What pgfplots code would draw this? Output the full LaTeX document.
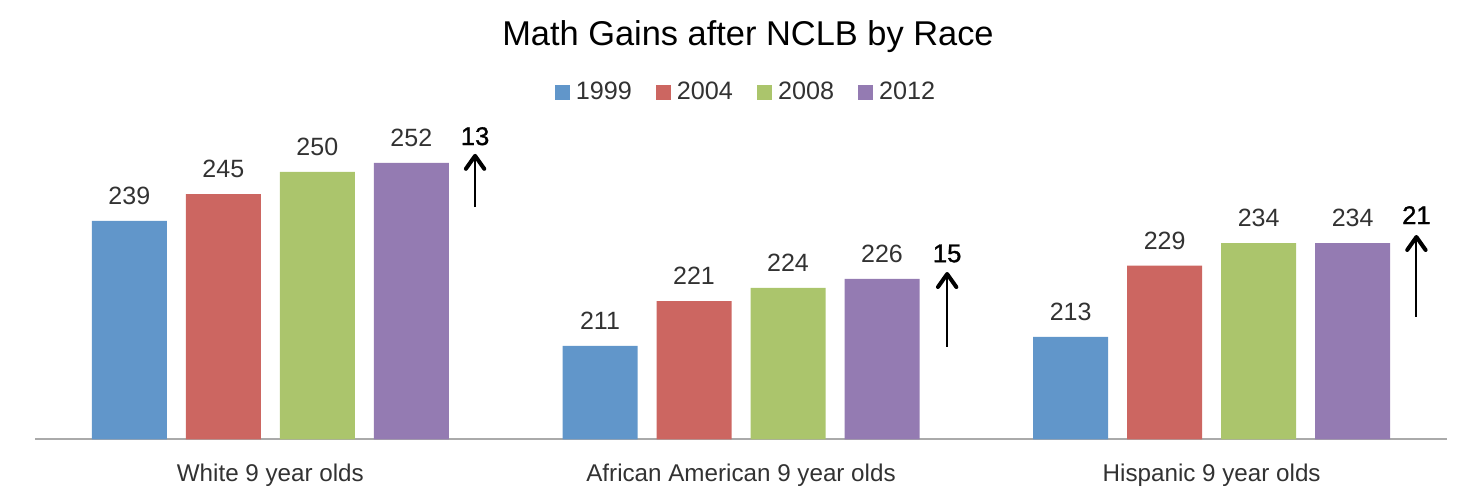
\documentclass[border=0pt]{standalone}
\usepackage{pgfplots}
\pgfplotsset{compat=1.18}
\usepackage{fontspec}
\setmainfont{Liberation Sans}
\newfontfamily\gainfont[BoldFont={Liberation Sans}, BoldFeatures={FakeBold=1.2}]{Liberation Sans}

\definecolor{c1999}{RGB}{97,150,202}
\definecolor{c2004}{RGB}{204,102,97}
\definecolor{c2008}{RGB}{171,197,108}
\definecolor{c2012}{RGB}{148,123,178}
\definecolor{axisgray}{RGB}{170,170,170}
\definecolor{labelgray}{RGB}{50,50,50}

% gain arrow: thin shaft from (#1,#2) up to (#1,#3), bold chevron head
\newcommand{\gainarrow}[3]{%
  \draw[line width=1pt] (axis cs:#1,#2) -- (axis cs:#1,#3);
  \draw[line width=2pt, line cap=round, line join=round]
    ([shift={(-4.6pt,-6.5pt)}]axis cs:#1,#3) -- (axis cs:#1,#3) -- ([shift={(4.6pt,-6.5pt)}]axis cs:#1,#3);
}

\begin{document}
\begin{tikzpicture}
\begin{axis}[
    scale only axis,
    width=706pt, height=156.1pt,
    xmin=-0.5, xmax=2.5,
    ymin=190, ymax=260,
    ybar=9.5pt,
    bar width=37.5pt,
    axis x line=bottom,
    axis y line=none,
    axis line style={-, draw=axisgray, line width=1pt},
    xtick={0,1,2},
    xticklabels={White 9 year olds, African American 9 year olds, Hispanic 9 year olds},
    major tick length=0pt,
    xticklabel style={anchor=base, yshift=-21pt, font=\fontsize{12.1}{14}\selectfont, text=labelgray},
    ytick=\empty,
    /pgf/number format/assume math mode=true,
    nodes near coords,
    every node near coord/.append style={font=\fontsize{12.5}{14}\selectfont, text=labelgray, anchor=base, yshift=8.2pt, inner sep=0pt},
    title={Math Gains after NCLB by Race},
    title style={at={(0.5,1)}, anchor=center, yshift=39.5pt, xshift=3.5pt, font=\fontsize{17.2}{20}\selectfont},
    legend columns=-1,
    legend style={at={(0.5,1)}, anchor=center, xshift=3pt, yshift=17.6pt, draw=none,
        font=\fontsize{12.6}{14}\selectfont, text=labelgray,
        /tikz/every odd column/.append style={column sep=1pt},
        /tikz/every even column/.append style={column sep=10pt}},
    legend image code/.code={\fill[#1] (0pt,-3.75pt) rectangle (7.5pt,3.75pt);},
    clip=false,
]
\addplot[fill=c1999, draw=none] coordinates {(0,239) (1,211) (2,213)};
\addplot[fill=c2004, draw=none] coordinates {(0,245) (1,221) (2,229)};
\addplot[fill=c2008, draw=none] coordinates {(0,250) (1,224) (2,234)};
\addplot[fill=c2012, draw=none] coordinates {(0,252) (1,226) (2,234)};
\legend{1999,2004,2008,2012}

\gainarrow{0.435}{242.1}{253.6}
\gainarrow{1.438}{210.8}{227.1}
\gainarrow{2.435}{217.5}{235.4}
\node[font=\gainfont\bfseries\fontsize{12.8}{14}\selectfont] at (axis cs:0.435,258.0) {13};
\node[font=\gainfont\bfseries\fontsize{12.8}{14}\selectfont] at (axis cs:1.438,231.7) {15};
\node[font=\gainfont\bfseries\fontsize{12.8}{14}\selectfont] at (axis cs:2.435,240.3) {21};
\end{axis}
\pgfresetboundingbox
\path ([shift={(-17.5pt,-31.85pt)}]current axis.south west) rectangle ([shift={(16.5pt,63.65pt)}]current axis.north east);
\end{tikzpicture}
\end{document}
